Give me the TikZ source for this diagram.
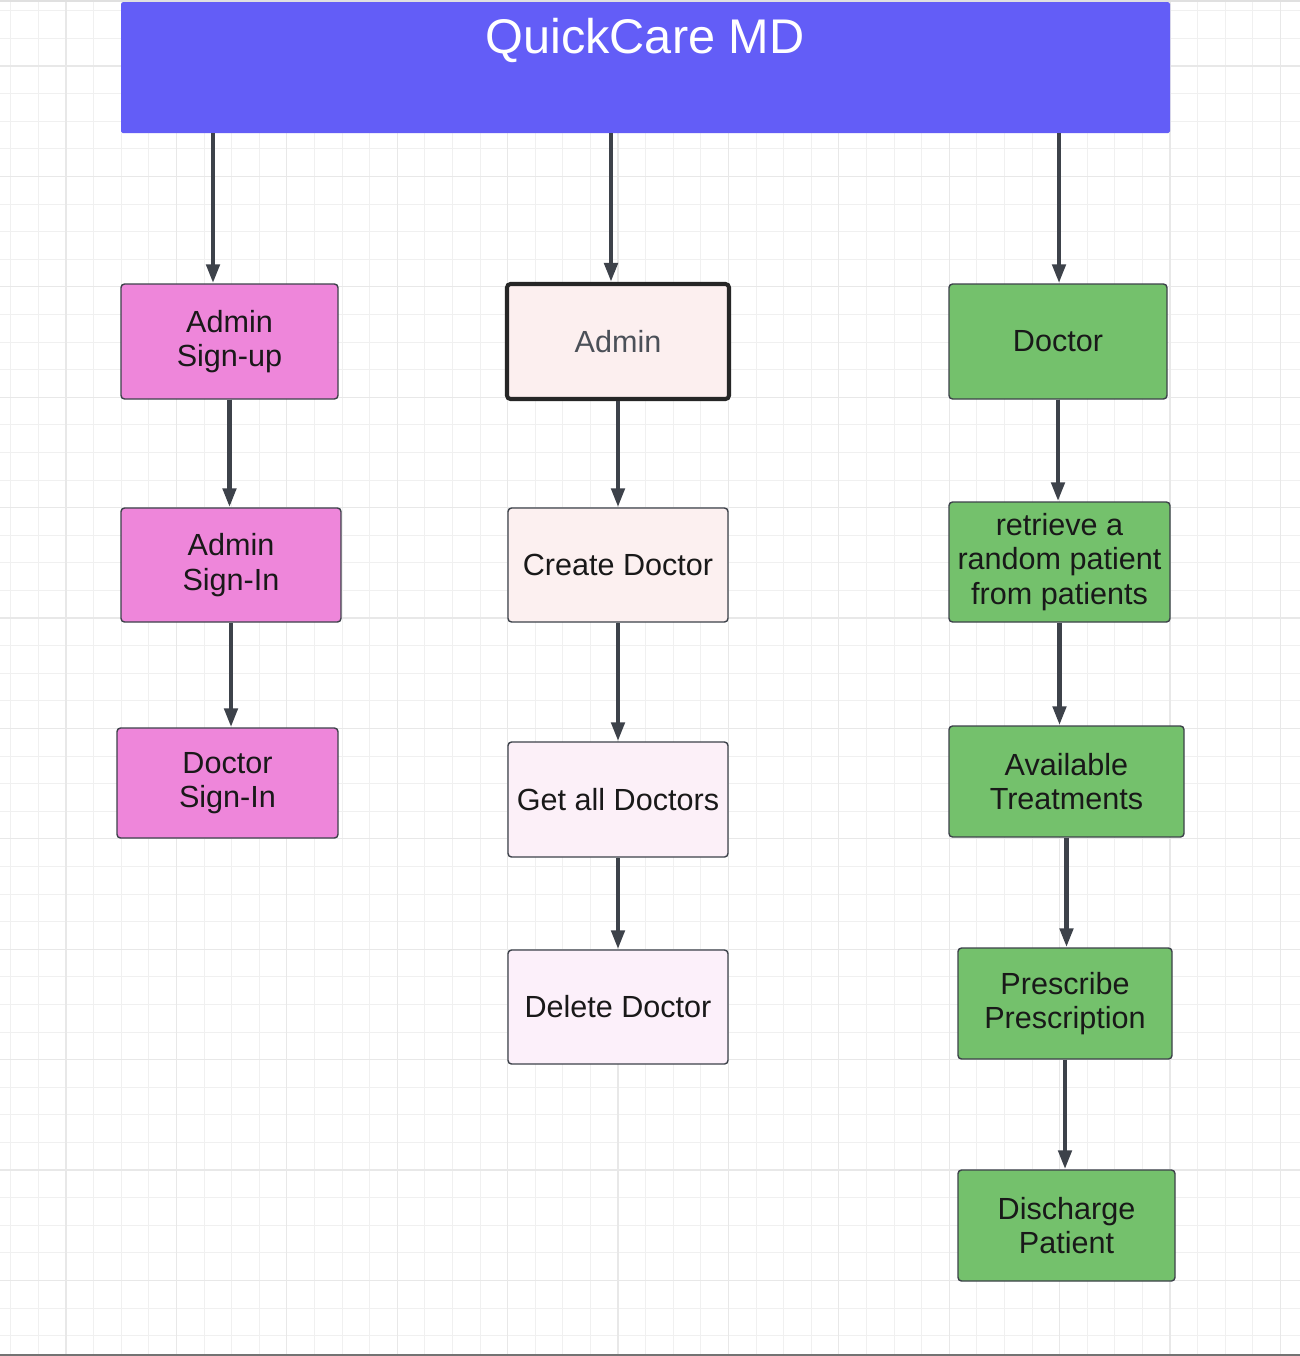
\documentclass[tikz,border=0pt]{standalone}
\usepackage{fontspec}
\setmainfont{Liberation Sans}
\usepackage{xcolor}
\usetikzlibrary{arrows.meta,positioning,calc}

\definecolor{headblue}{RGB}{99,93,247}
\definecolor{pinkbox}{RGB}{238,134,218}
\definecolor{greenbox}{RGB}{116,193,108}
\definecolor{paleA}{RGB}{252,239,239}
\definecolor{paleB}{RGB}{252,240,240}
\definecolor{paleC}{RGB}{252,240,248}
\definecolor{paleD}{RGB}{252,240,250}
\definecolor{edgegray}{RGB}{61,66,74}
\definecolor{txtgray}{RGB}{75,80,88}

\begin{document}
\begin{tikzpicture}[
    box/.style={draw=edgegray,line width=0.8pt,rounded corners=2pt,align=center,
        inner sep=0pt,font=\fontsize{17.4}{19.6}\selectfont,text=black!90},
    pinkfill/.style={box,fill=pinkbox},
    greenfill/.style={box,fill=greenbox},
    arr/.style={draw=edgegray,line width=2.6pt,-{Triangle[length=0.38cm,width=0.26cm]}},
    minorgrid/.style={draw=black!6,line width=0.45pt},
    majorgrid/.style={draw=black!9,line width=0.6pt},
]
    % canvas and grid
    \fill[white] (0,0) rectangle (26,-27.12);
    \useasboundingbox (0,0) rectangle (26,-27.12);
    \begin{scope}[shift={(1.32,-1.32)}]
        \draw[minorgrid,step=0.552] (-1.32,1.32) grid (24.68,-25.8);
        \draw[majorgrid,step=2.208] (-1.32,1.32) grid (24.68,-25.8);
    \end{scope}
    \draw[black!12,line width=0.8pt] (0,-0.02) -- (26,-0.02);
    \draw[black!55,line width=1pt] (0,-27.1) -- (26,-27.1);

    % header
    \node[fill=headblue,rounded corners=1pt,minimum width=20.98cm,minimum height=2.62cm,inner sep=0pt] (title) at (12.91,-1.35) {};
    \node[text=white,font=\fontsize{27.7}{30}\selectfont,inner sep=0pt] (titletext) at (12.9,-0.80) {QuickCare MD};

    % left column
    \node[pinkfill,minimum width=4.34cm,minimum height=2.30cm] (su) at (4.59,-6.83) {Admin\\Sign-up};
    \node[pinkfill,minimum width=4.40cm,minimum height=2.28cm] (si) at (4.62,-11.30) {Admin\\Sign-In};
    \node[pinkfill,minimum width=4.42cm,minimum height=2.20cm] (ds) at (4.55,-15.66) {Doctor\\Sign-In};

    % middle column
    \node[box,fill=paleA,draw=black!85,line width=2.3pt,text=txtgray,minimum width=4.44cm,minimum height=2.30cm] (adm) at (12.36,-6.83) {Admin};
    \node[box,fill=paleB,minimum width=4.40cm,minimum height=2.28cm] (cd) at (12.36,-11.30) {Create Doctor};
    \node[box,fill=paleC,minimum width=4.40cm,minimum height=2.30cm] (gad) at (12.36,-15.99) {Get all Doctors};
    \node[box,fill=paleD,minimum width=4.40cm,minimum height=2.28cm] (dd) at (12.36,-20.14) {Delete Doctor};

    % right column
    \node[greenfill,minimum width=4.36cm,minimum height=2.30cm] (doc) at (21.16,-6.83) {Doctor};
    \node[greenfill,minimum width=4.42cm,minimum height=2.40cm] (rr) at (21.19,-11.24) {retrieve a\\random patient\\from patients};
    \node[greenfill,minimum width=4.70cm,minimum height=2.22cm] (at) at (21.33,-15.63) {Available\\Treatments};
    \node[greenfill,minimum width=4.28cm,minimum height=2.22cm] (pp) at (21.30,-20.07) {Prescribe\\Prescription};
    \node[greenfill,minimum width=4.34cm,minimum height=2.22cm] (dp) at (21.33,-24.51) {Discharge\\Patient};

    % connectors
    \coordinate (t1) at ([xshift=-0.33cm]su.north);
    \coordinate (t2) at ([xshift=-0.14cm]adm.north);
    \coordinate (t3) at ([xshift=0.02cm]doc.north);
    \draw[arr] (title.south -| t1) -- (t1);
    \draw[arr] (title.south -| t2) -- (t2);
    \draw[arr] (title.south -| t3) -- (t3);

    \draw[arr] (su.south) -- (su.south |- si.north);
    \draw[arr] (si.south) -- (si.south |- ds.north);

    \draw[arr] (adm.south) -- (adm.south |- cd.north);
    \draw[arr] (cd.south) -- (cd.south |- gad.north);
    \draw[arr] (gad.south) -- (gad.south |- dd.north);

    \draw[arr] (doc.south) -- (doc.south |- rr.north);
    \draw[arr] (rr.south) -- (rr.south |- at.north);
    \draw[arr] (at.south) -- (at.south |- pp.north);
    \draw[arr] (pp.south) -- (pp.south |- dp.north);
\end{tikzpicture}
\end{document}
